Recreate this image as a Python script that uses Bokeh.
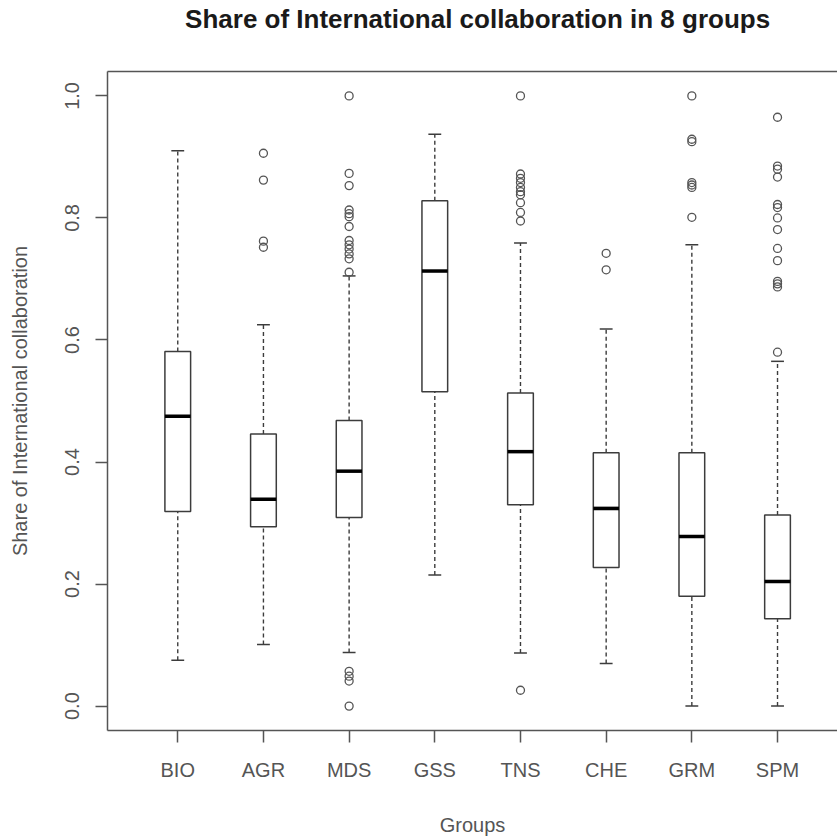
from bokeh.plotting import figure
from bokeh.models import (FixedTicker, LinearAxis, Range1d, NumeralTickFormatter,
                          ColumnDataSource)
from bokeh.embed import file_html
from bokeh.resources import INLINE

# ---- data ----
groups = ["BIO", "AGR", "MDS", "GSS", "TNS", "CHE", "GRM", "SPM"]
lower_whisker = [0.075, 0.101, 0.088, 0.215, 0.087, 0.070, 0.000, 0.000]
q1 = [0.319, 0.294, 0.309, 0.515, 0.330, 0.227, 0.180, 0.143]
median = [0.475, 0.339, 0.385, 0.713, 0.417, 0.324, 0.278, 0.204]
q3 = [0.581, 0.446, 0.468, 0.828, 0.513, 0.415, 0.415, 0.313]
upper_whisker = [0.910, 0.625, 0.705, 0.937, 0.759, 0.618, 0.756, 0.565]

outliers_BIO = []
outliers_AGR = [0.906, 0.862, 0.762, 0.752]
outliers_MDS = [1.0, 0.873, 0.853, 0.813, 0.807, 0.802, 0.786, 0.763, 0.756,
                0.749, 0.741, 0.733, 0.711, 0.057, 0.049, 0.041, 0.0]
outliers_GSS = []
outliers_TNS = [1.0, 0.872, 0.865, 0.858, 0.850, 0.843, 0.838, 0.825, 0.809,
                0.795, 0.026]
outliers_CHE = [0.742, 0.715]
outliers_GRM = [1.0, 0.929, 0.925, 0.858, 0.854, 0.850, 0.801]
outliers_SPM = [0.965, 0.885, 0.880, 0.867, 0.822, 0.817, 0.800, 0.781, 0.750,
                0.730, 0.696, 0.692, 0.687, 0.580]
outliers = [outliers_BIO, outliers_AGR, outliers_MDS, outliers_GSS,
            outliers_TNS, outliers_CHE, outliers_GRM, outliers_SPM]

title_text = "Share of International collaboration in 8 groups"
x_title = "Groups"
y_title = "Share of International collaboration"
y_ticks = [0.0, 0.2, 0.4, 0.6, 0.8, 1.0]

# ---- layout ----
FONT = "Liberation Sans"
GRAY = "#555555"
LINE = "#3c3c3c"
pos = list(range(1, len(groups) + 1))
half_box = 0.15
half_cap = 0.075
title_pos = (pos[0] + pos[-1]) / 2  # centre of the plot region

p = figure(width=837, height=838, output_backend="svg", toolbar_location=None,
           x_range=Range1d(0.18, 8.70), y_range=Range1d(-0.04, 1.04),
           min_border_left=107, min_border_top=70, min_border_bottom=106,
           min_border_right=0, x_axis_type=None, y_axis_type=None)
p.outline_line_color = None
p.xgrid.visible = False
p.ygrid.visible = False
p.background_fill_color = "white"
p.border_fill_color = "white"

# axes
xaxis = LinearAxis(ticker=FixedTicker(ticks=pos),
                   major_label_overrides={i: g for i, g in zip(pos, groups)})
yaxis = LinearAxis(ticker=FixedTicker(ticks=y_ticks),
                   formatter=NumeralTickFormatter(format="0.0"))
# top border line; its single "tick label" carries the main title
top = LinearAxis(ticker=FixedTicker(ticks=[title_pos]),
                 major_label_overrides={title_pos: title_text})
top.major_tick_line_color = None
top.major_tick_out = 0
top.major_tick_in = 0
top.minor_tick_line_color = None
top.axis_line_color = GRAY
top.axis_line_width = 1.5
top.major_label_standoff = 38
top.major_label_text_font = FONT
top.major_label_text_font_size = "26px"
top.major_label_text_font_style = "bold"
top.major_label_text_color = "#1a1a1a"

for ax in (xaxis, yaxis):
    ax.axis_line_color = GRAY
    ax.axis_line_width = 1.5
    ax.major_tick_line_color = GRAY
    ax.major_tick_line_width = 1.5
    ax.major_tick_out = 12
    ax.major_tick_in = 0
    ax.minor_tick_line_color = None
    ax.major_label_text_font = FONT
    ax.major_label_text_font_size = "20px"
    ax.major_label_text_color = GRAY
    ax.axis_label_text_font = FONT
    ax.axis_label_text_font_size = "20px"
    ax.axis_label_text_color = GRAY
    ax.axis_label_text_font_style = "normal"

xaxis.axis_label = x_title
xaxis.major_label_standoff = 16
xaxis.axis_label_standoff = 30
yaxis.axis_label = y_title
yaxis.major_label_orientation = "vertical"
yaxis.major_label_standoff = 16
yaxis.axis_label_standoff = 32

p.add_layout(xaxis, "below")
p.add_layout(yaxis, "left")
p.add_layout(top, "above")

# boxes
src = ColumnDataSource(dict(
    x=pos, left=[x - half_box for x in pos], right=[x + half_box for x in pos],
    cl=[x - half_cap for x in pos], cr=[x + half_cap for x in pos],
    lw=lower_whisker, q1=q1, med=median, q3=q3, uw=upper_whisker))

p.segment(x0="x", x1="x", y0="q3", y1="uw", source=src, line_color=LINE,
          line_width=1.4, line_dash="4 3")
p.segment(x0="x", x1="x", y0="lw", y1="q1", source=src, line_color=LINE,
          line_width=1.4, line_dash="4 3")
p.segment(x0="cl", x1="cr", y0="uw", y1="uw", source=src, line_color=LINE,
          line_width=1.5)
p.segment(x0="cl", x1="cr", y0="lw", y1="lw", source=src, line_color=LINE,
          line_width=1.5)
p.quad(left="left", right="right", bottom="q1", top="q3", source=src,
       fill_color="white", line_color=LINE, line_width=1.5)
p.segment(x0="left", x1="right", y0="med", y1="med", source=src,
          line_color="black", line_width=3.5)

ox, oy = [], []
for x, vals in zip(pos, outliers):
    for v in vals:
        ox.append(x)
        oy.append(v)
p.scatter(ox, oy, marker="circle", size=8, fill_color=None, line_color=GRAY,
          line_width=1.3)

open("out.html", "w").write(file_html(p, INLINE))
